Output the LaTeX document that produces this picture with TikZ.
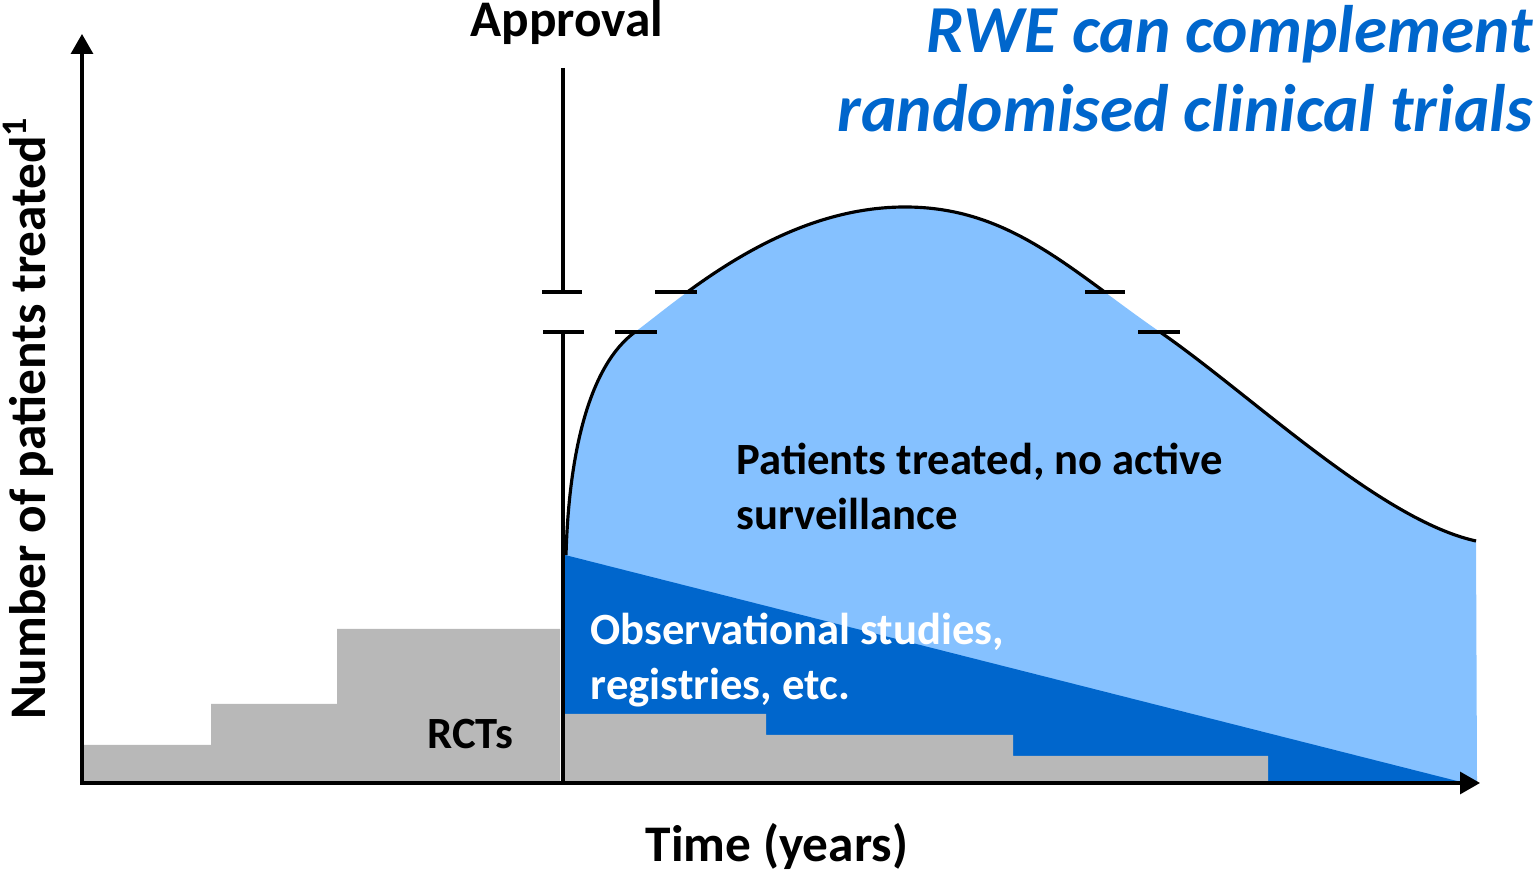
\documentclass[tikz,border=0pt]{standalone}
\usepackage{fontspec}
\setmainfont{Carlito}
\usetikzlibrary{arrows.meta}
\definecolor{rwelight}{RGB}{133,193,255}
\definecolor{rwedark}{RGB}{0,102,204}
\definecolor{rctgray}{RGB}{184,184,184}
\newcommand{\humppath}{(566,555) .. controls (569,450) and (590,365) .. (635,332)
  .. controls (680,299) and (780,207) .. (905,207)
  .. controls (1010,207) and (1070,270) .. (1160,332)
  .. controls (1250,394) and (1380,520) .. (1476,541)}
\begin{document}
\begin{tikzpicture}[x=0.01cm,y=-0.01cm,
  axis/.style={line width=0.9pt,-{Triangle[length=2mm,width=2.2mm]}},
  hump/.style={line width=0.9pt},
  brk/.style={line width=0.9pt},
  big/.style={font=\fontsize{14.6}{17}\selectfont\bfseries},
  body/.style={font=\fontsize{12.7}{15.9}\selectfont\bfseries, align=left, inner sep=0pt},
  headline/.style={font=\fontsize{19.1}{22.5}\selectfont\bfseries\itshape, text=rwedark, align=right, inner sep=0pt}]
\useasboundingbox (0,0) rectangle (1537,871);
% areas
\fill[rwelight] \humppath -- (1477,783) -- (566,783) -- cycle;
\fill[rwedark] (565,555) -- (1465,783) -- (565,783) -- cycle;
\fill[rctgray] (82,783) |- (211,745) |- (337,704) |- (560,629) -- (560,783) -- cycle;
\fill[rctgray] (565,783) |- (766,714) |- (1013,735) |- (1268,756) -- (1268,783) -- cycle;
% curve with break
\begin{scope}
\clip (0,0) rectangle (1537,292);
\draw[hump] \humppath;
\end{scope}
\begin{scope}
\clip (0,332) rectangle (1537,871);
\draw[hump] \humppath;
\end{scope}
% approval line
\coordinate (apptop) at (563,68);
\coordinate (appbrka) at (563,292);
\coordinate (appbrkb) at (563,332);
\coordinate (appbot) at (563,783);
\draw[brk] (apptop) -- (appbrka);
\draw[brk] (appbrkb) -- (appbot);
\draw[brk] (542,292) -- (582,292);
\draw[brk] (543,332) -- (584,332);
\draw[brk] (655,292) -- (697,292);
\draw[brk] (615,332) -- (657,332);
\draw[brk] (1085,292) -- (1125,292);
\draw[brk] (1138,332) -- (1180,332);
% axes
\coordinate (origin) at (82,783);
\coordinate (ytip) at (82,34);
\coordinate (xstart) at (80,783);
\coordinate (xtip) at (1480,783);
\draw[axis] (origin) -- (ytip);
\draw[axis] (xstart) -- (xtip);
% labels
\node[big, anchor=base] (approval) at (567,37) {Approval};
\node[big, anchor=base] (time) at (777,862) {Time (years)};
\node[big, anchor=base, rotate=90] (ylabel) at (45,418) {Number of patients treated\textsuperscript{1}};
\node[body, anchor=base] (rcts) at (470,749) {RCTs};
\node[body, anchor=base west] (passive) at (736,530) {Patients treated, no active\\surveillance};
\node[body, anchor=base west, text=white] (observ) at (590,700) {Observational studies,\\registries, etc.};
\node[headline, anchor=base east] (claim) at (1533,132) {RWE can complement\\randomised clinical trials};
\end{tikzpicture}
\end{document}
